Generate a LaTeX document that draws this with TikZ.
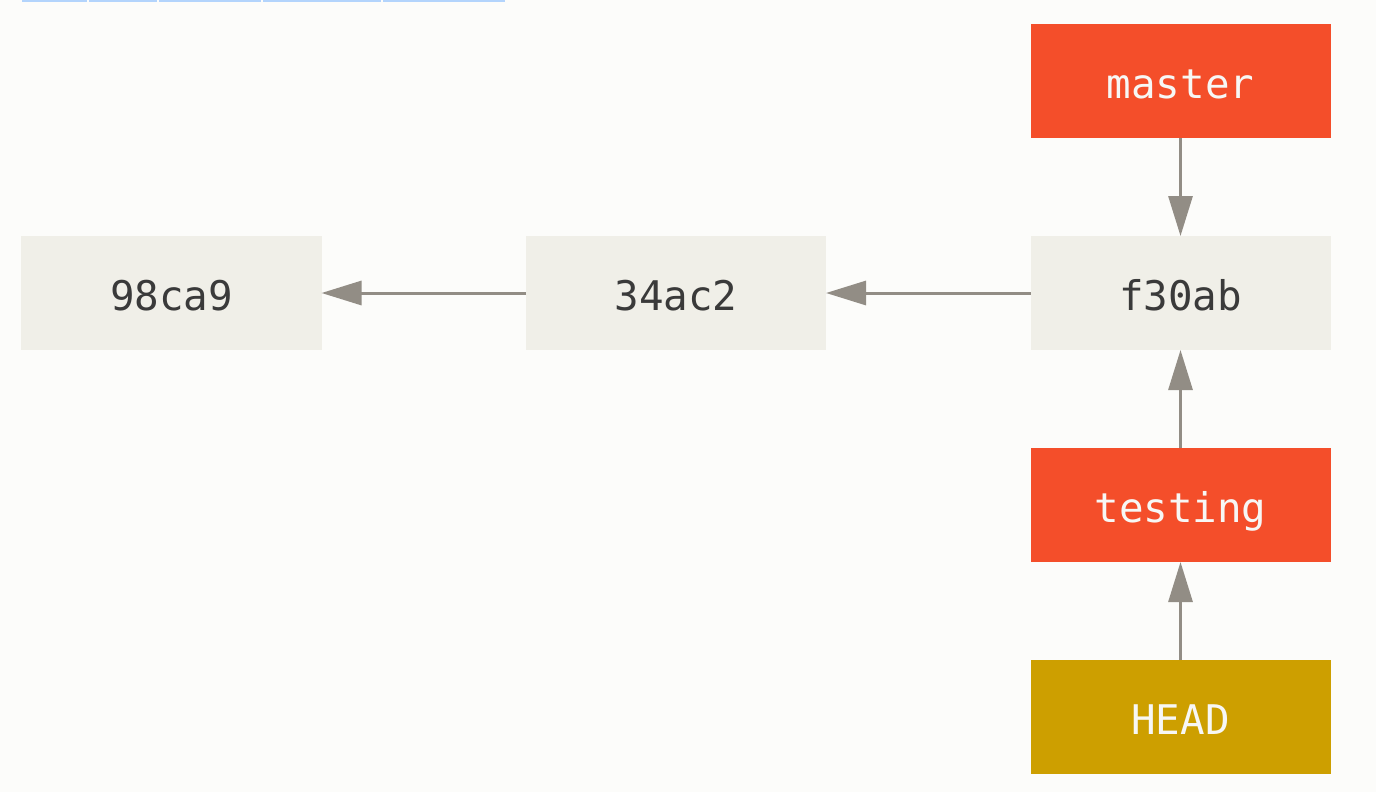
\documentclass[tikz,border=0pt]{standalone}
\usepackage{fontspec}
\newfontfamily\gitmono{DejaVu Sans Mono}
\usetikzlibrary{arrows.meta}
\definecolor{bgcol}{HTML}{FCFCFA}
\definecolor{commitfill}{HTML}{F0EFE8}
\definecolor{branchred}{HTML}{F44E2A}
\definecolor{headgold}{HTML}{CD9F00}
\definecolor{arrowgray}{HTML}{928D85}
\definecolor{textdark}{HTML}{3A3A3A}
\definecolor{labelwhite}{HTML}{F7F7F5}
\definecolor{selblue}{HTML}{B3D4FC}
\tikzset{
  box/.style={minimum width=300bp, minimum height=114bp, inner sep=0pt, outer sep=0pt,
    font=\gitmono\fontsize{41}{41}\selectfont, text height=35bp, text depth=0bp},
  commitbox/.style={box, fill=commitfill, text=textdark},
  branchbox/.style={box, fill=branchred, text=labelwhite},
  headbox/.style={box, fill=headgold, text=labelwhite},
  conn/.style={draw=arrowgray, line width=3bp, -{Triangle[length=40bp,width=24bp]}},
  selbar/.style={fill=selblue}
}
\begin{document}
\begin{tikzpicture}[x=1bp,y=-1bp]
\fill[bgcol] (0,0) rectangle (1376,792);
\useasboundingbox (0,0) rectangle (1376,792);
\fill[selbar] (22,0) rectangle (87,2);
\fill[selbar] (89,0) rectangle (157,2);
\fill[selbar] (159,0) rectangle (261,2);
\fill[selbar] (263,0) rectangle (381,2);
\fill[selbar] (383,0) rectangle (505,2);

\node[commitbox] (c1) at (171.5,293) {98ca9};
\node[commitbox] (c2) at (676,293) {34ac2};
\node[commitbox] (c3) at (1180.5,293) {f30ab};
\node[branchbox] (master) at (1180.5,81) {master};
\node[branchbox] (testing) at (1180.5,505) {testing};
\node[headbox] (head) at (1180.5,717) {HEAD};

\draw[conn] (c2) -- (c1);
\draw[conn] (c3) -- (c2);
\draw[conn] (master) -- (c3);
\draw[conn] (testing) -- (c3);
\draw[conn] (head) -- (testing);
\end{tikzpicture}
\end{document}
